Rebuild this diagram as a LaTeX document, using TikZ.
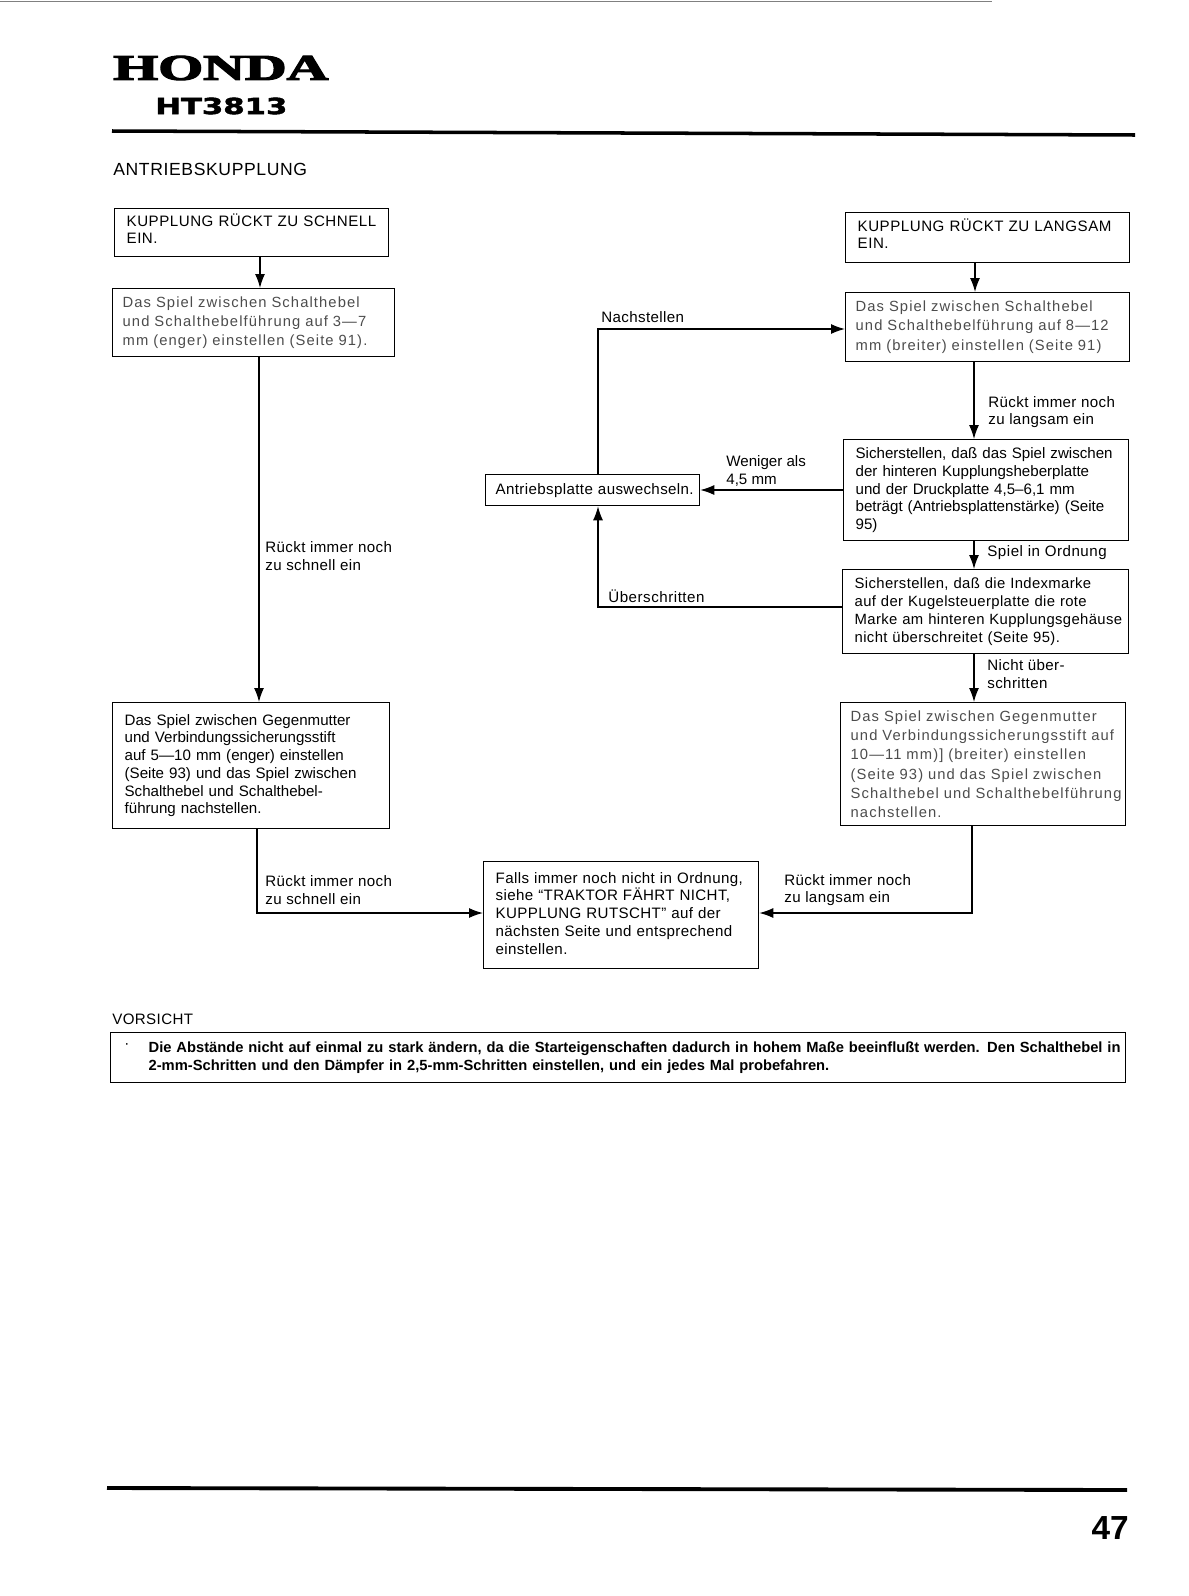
\documentclass[tikz,border=0pt]{standalone}
\usepackage{fontspec}
\usepackage{graphicx}
\usepackage{xcolor}
\usepackage{tikz}
\usetikzlibrary{positioning,arrows.meta}
\setmainfont{Liberation Sans}
\newfontfamily\fadedfont[LetterSpace=7.5]{Liberation Sans}
\newfontfamily\spacedfont[LetterSpace=2.5]{Liberation Sans}
\newfontfamily\capsfont[LetterSpace=3.5]{Liberation Sans}
\newfontfamily\brandfont[BoldFeatures={FakeBold=3}]{Liberation Serif}
\newfontfamily\typefont[BoldFeatures={FakeBold=2}]{DejaVu Sans}
\definecolor{fadedink}{gray}{0.3}
\newcommand{\liftup}[1]{\rule[-#1]{0pt}{0pt}}
\tikzset{
  flowbox/.style n args={2}{draw, line width=0.75pt, anchor=north west, align=left,
    inner xsep=0.24cm, inner ysep=0pt, text width=#1cm-0.48cm, minimum height=#2cm,
    font=\fontsize{8.6}{10.1}\selectfont},
  fadedbox/.style={font=\fontsize{8.4}{11}\fadedfont, text=fadedink, inner xsep=0.2cm},
  spacedbox/.style={font=\fontsize{8.6}{10.1}\spacedfont},
  capsbox/.style={font=\fontsize{8.6}{10.1}\capsfont},
  flowlabel/.style={anchor=west, align=left, inner sep=0pt, font=\fontsize{8.6}{10.1}\spacedfont},
  flowarrow/.style={line width=0.75pt, -{Latex[length=2.8mm,width=2mm]}},
}
\begin{document}
\begin{tikzpicture}[x=0.02cm, y=-0.02cm]
  \useasboundingbox (0,0) rectangle (1188,1596);

  % Page head
  \draw[line width=0.3pt, gray] (0,1) -- (992,1);
  \node[anchor=west, inner sep=0pt] (brand) at (113,68) {\resizebox{4.3cm}{0.48cm}{\brandfont\bfseries HONDA}};
  \node[anchor=west, inner sep=0pt] (model) at (155,106) {\resizebox{2.64cm}{0.33cm}{\typefont\bfseries HT3813}};
  \draw[line width=2pt] (112,131) -- (1135,135);
  \node[flowlabel, font=\fontsize{10}{12}\capsfont] (title) at (113,169) {ANTRIEBSKUPPLUNG};

  % Left column
  \node[flowbox={5.48}{0.96}, capsbox] (fastone) at (114,208) {KUPPLUNG RÜCKT ZU SCHNELL\\EIN.\liftup{0.16cm}};
  \node[flowbox={5.72}{1.36}, fadedbox] (fasttwo) at (112,288) {Das Spiel zwischen Schalthebel\\und Schalthebelführung auf 3—7\\mm (enger) einstellen (Seite 91).};
  \node[flowbox={5.54}{2.52}] (fastthree) at (112,702) {Das Spiel zwischen Gegenmutter\\und Verbindungssicherungsstift\\auf 5—10 mm (enger) einstellen\\(Seite 93) und das Spiel zwischen\\Schalthebel und Schalthebel-\\führung nachstellen.};

  % Middle boxes
  \node[flowbox={4.36}{0.62}, spacedbox, inner xsep=0.2cm] (plate) at (485,474) {\mbox{Antriebsplatte auswechseln.}};
  \node[flowbox={5.5}{2.14}, spacedbox] (last) at (483,861) {\mbox{Falls immer noch nicht in Ordnung,}\\siehe “TRAKTOR FÄHRT NICHT,\\KUPPLUNG RUTSCHT” auf der\\nächsten Seite und entsprechend\\einstellen.\liftup{0.08cm}};

  % Right column
  \node[flowbox={5.68}{1.0}, capsbox] (slowone) at (845,212) {\mbox{KUPPLUNG RÜCKT ZU LANGSAM}\\EIN.\liftup{0.16cm}};
  \node[flowbox={5.76}{1.38}, fadedbox] (slowtwo) at (845,292) {Das Spiel zwischen Schalthebel\\und Schalthebelführung auf 8—12\\mm (breiter) einstellen (Seite 91)};
  \node[flowbox={5.7}{2.02}] (slowthree) at (843,439) {\mbox{Sicherstellen, daß das Spiel zwischen}\\der hinteren Kupplungsheberplatte\\und der Druckplatte 4,5–6,1 mm\\\mbox{beträgt (Antriebsplattenstärke) (Seite}\\95)};
  \node[flowbox={5.72}{1.68}, font=\fontsize{8.45}{10.1}\spacedfont] (slowfour) at (842,569) {Sicherstellen, daß die Indexmarke\\auf der Kugelsteuerplatte die rote\\\mbox{Marke am hinteren Kupplungsgehäuse}\\nicht überschreitet (Seite 95).};
  \node[flowbox={5.78}{2.46}, fadedbox] (slowfive) at (840,702) {Das Spiel zwischen Gegenmutter\\\mbox{und Verbindungssicherungsstift auf}\\10—11 mm)] (breiter) einstellen\\(Seite 93) und das Spiel zwischen\\\mbox{Schalthebel und Schalthebelführung}\\nachstellen.};

  % Left connectors
  \draw[flowarrow] (fastone.south -| 260,0) -- (fasttwo.north -| 260,0);
  \draw[flowarrow] (fasttwo.south -| 259,0) -- (fastthree.north -| 259,0);
  \draw[flowarrow] (fastthree.south -| 257,0) |- (last.west |- 0,913);

  % Right connectors
  \draw[flowarrow] (slowone.south -| 975,0) -- (slowtwo.north -| 975,0);
  \draw[flowarrow] (slowtwo.south -| 974,0) -- (slowthree.north -| 974,0);
  \draw[flowarrow] (slowthree.south -| 974,0) -- (slowfour.north -| 974,0);
  \draw[flowarrow] (slowfour.south -| 974,0) -- (slowfive.north -| 974,0);
  \draw[flowarrow] (slowfive.south -| 972,0) |- (last.east |- 0,913);

  % Connectors round the plate box
  \draw[flowarrow] (slowthree.west |- 0,490) -- (plate.east |- 0,490);
  \draw[flowarrow] (slowfour.west |- 0,607) -| (plate.south -| 598,0);
  \draw[flowarrow] (plate.north -| 598,0) |- (slowtwo.west |- 0,329);

  % Connector labels
  \node[flowlabel] (lblfast) at (265,556) {Rückt immer noch\\zu schnell ein};
  \node[flowlabel] (lblfastb) at (265,890) {Rückt immer noch\\zu schnell ein};
  \node[flowlabel] (lblslowb) at (784,890) {Rückt immer noch\\zu langsam ein};
  \node[flowlabel] (lblslow) at (988,412) {Rückt immer noch\\zu langsam ein};
  \node[flowlabel] (lbladjust) at (601,317) {Nachstellen};
  \node[flowlabel, font=\fontsize{8.6}{10.1}\selectfont] (lblless) at (726,471) {Weniger als\\4,5 mm};
  \node[flowlabel, font=\fontsize{8.6}{10.1}\capsfont] (lblover) at (608,596) {Überschritten};
  \node[flowlabel, font=\fontsize{8.6}{10.1}\capsfont] (lblok) at (987,553) {Spiel in Ordnung};
  \node[flowlabel] (lblnotover) at (987,674) {Nicht über-\\schritten};

  % Caution
  \node[flowlabel] (cautionhead) at (112,1019) {VORSICHT};
  \node[flowbox={20.3}{1.0}, inner xsep=0.76cm, text width=18.78cm, font=\fontsize{8.38}{9.9}\bfseries\selectfont] (caution) at (110,1032) {\mbox{Die Abstände nicht auf einmal zu stark ändern, da die Starteigenschaften dadurch in hohem Maße beeinflußt werden. Den Schalthebel in}\\2-mm-Schritten und den Dämpfer in 2,5-mm-Schritten einstellen, und ein jedes Mal probefahren.\liftup{0.06cm}};
  \node[flowlabel] (cautiondot) at (124,1046) {·};

  % Page foot
  \draw[line width=2.2pt] (107,1488) -- (1127,1490);
  \node[anchor=east, inner sep=0pt, font=\fontsize{19}{22}\bfseries\selectfont] (pagenum) at (1129,1528) {47};
\end{tikzpicture}
\end{document}
